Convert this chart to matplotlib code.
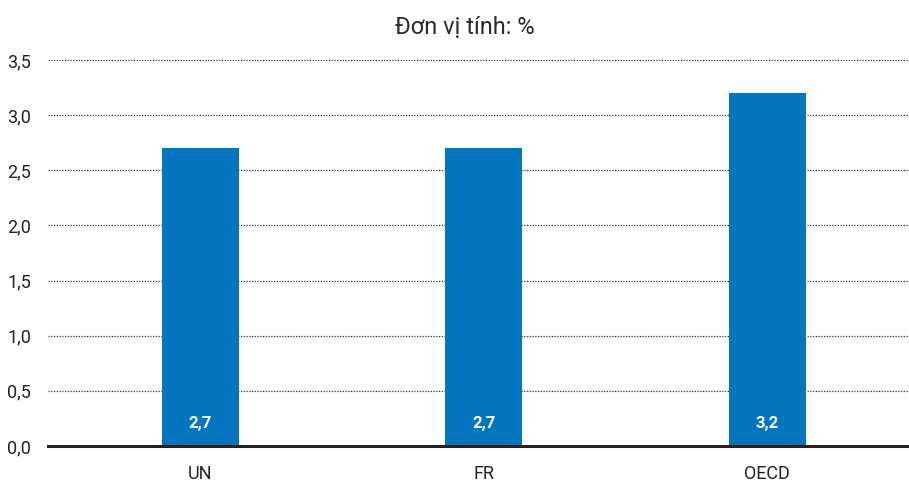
import matplotlib
matplotlib.use("Agg")
import matplotlib.pyplot as plt
from matplotlib import font_manager

names = set(f.name for f in font_manager.fontManager.ttflist)
fam = "Liberation Sans Narrow" if "Liberation Sans Narrow" in names else "Roboto"
plt.rcParams['font.family'] = [fam, 'DejaVu Sans']

categories = ["UN", "FR", "OECD"]
values = [2.7, 2.7, 3.2]
yticks = [0.0, 0.5, 1.0, 1.5, 2.0, 2.5, 3.0, 3.5]
ytick_labels = ["0,0", "0,5", "1,0", "1,5", "2,0", "2,5", "3,0", "3,5"]
unit = "Đơn vị tính: %"

fig = plt.figure(figsize=(9.09, 4.83), dpi=100)
ax = fig.add_axes([48/909, 1-446/483, 1-48/909, (446-60)/483])

x = range(len(categories))
bars = ax.bar(x, values, width=0.27, color='#0575c0', zorder=3)
for b, v in zip(bars, values):
    ax.text(b.get_x()+b.get_width()/2, 0.2, f"{v:.1f}".replace('.', ','),
            ha='center', va='center', color='white', fontsize=12, fontweight='bold', zorder=4)

ax.set_xlim(-0.537, 2.5)
ax.set_ylim(0, 3.5)
ax.set_yticks(yticks)
ax.set_yticklabels(ytick_labels, fontsize=13, color='#222222')
ax.set_xticks(list(x))
ax.set_xticklabels(categories, fontsize=13, color='#222222')
ax.tick_params(axis='y', length=0, pad=12)
ax.tick_params(axis='x', length=0, pad=14)
ax.yaxis.grid(True, linestyle=(0, (1, 1.2)), color='#333333', linewidth=0.9, zorder=0)
for s in ['top', 'right', 'left']:
    ax.spines[s].set_visible(False)
ax.spines['bottom'].set_linewidth(2.2)
ax.spines['bottom'].set_color('#222222')
ax.spines['bottom'].set_zorder(5)

fig.text(465/909, 1-27/483, unit, ha='center', va='center', fontsize=17, color='#2a2a2a')

fig.savefig("out.png", dpi=100)
